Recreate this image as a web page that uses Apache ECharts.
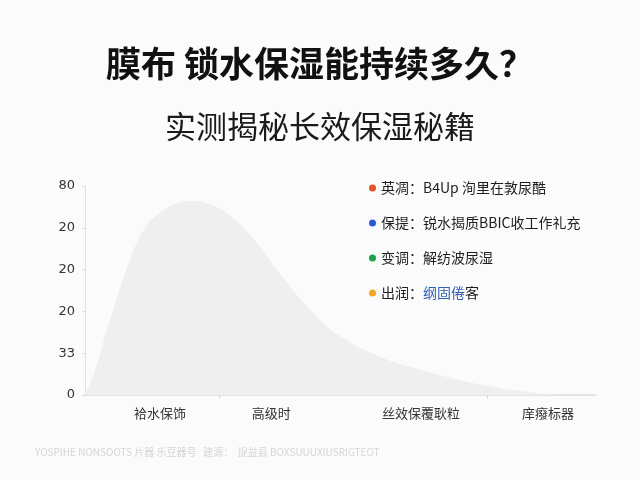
<!DOCTYPE html>
<html><head><meta charset="utf-8">
<script src="https://cdn.jsdelivr.net/npm/echarts@6/dist/echarts.min.js"></script>
<style>html,body{margin:0;padding:0;background:#fbfbfb}#c{width:640px;height:480px}</style>
</head><body><div id="c"></div>
<script>
// curve samples: position along the axis (0-100) and value
const curveX = [0, 2, 4, 6, 8, 10, 12, 14, 16, 18, 20, 22, 24, 26, 28, 30, 32, 34, 36, 38, 40, 42, 44, 46, 48, 50, 52, 54, 56, 58, 60, 64, 68, 72, 76, 80, 84, 88, 92, 96, 100];
const curveY = [0, 9.7, 23, 35.5, 47.3, 57.5, 64.6, 68.8, 71.6, 73.5, 74.2, 74.3, 73.4, 71.8, 69.4, 66.1, 62.1, 57.4, 52.2, 46.9, 42.1, 37.3, 33, 28.8, 25.3, 22.6, 20.3, 17.9, 16.2, 14.5, 12.9, 10.6, 8.4, 6.4, 4.6, 3.1, 1.9, 0.9, 0.2, 0, 0];
const categories = ['袷水保饰', '高级时', '丝效保覆耿粒', '庠癈标器'];
const categoryAt = [14.7, 36.5, 65.9, 90.8];
const xTicksAt = [26.3, 78.8];
const yTickLabels = ['0', '33', '20', '20', '20', '80'];
const legendNames = ['英凋：B4Up 洵里在敦尿酷', '保提：锐水揭质BBIC收工作礼充', '变调：解纺波尿湿', '出润：纲固倦客'];
const legendColors = ['#e8542a', '#2a5bd7', '#17a34a', '#f5a623'];
const titleText = '膜布 锁水保湿能持续多久？';
const subtitleText = '实测揭秘长效保湿秘籍';
const footerText = 'YOSPIHE NONSOOTS 片器 乐豆器号   建源：  捉益县 BOXSUUUXIUSRIGTEOT';

const chart = echarts.init(document.getElementById('c'), null, {renderer: 'canvas'});
const font = '"Noto Sans CJK SC", "Noto Sans", sans-serif';
const series = [{
  type: 'line', smooth: 0.5, symbol: 'none', silent: true,
  data: curveX.map((x, i) => [x, curveY[i]]),
  lineStyle: {width: 0},
  areaStyle: {color: '#efefef', opacity: 1},
  z: 1
}];
legendNames.forEach((n, i) => series.push({type: 'line', name: n, data: [], itemStyle: {color: legendColors[i]}}));

chart.setOption({
  backgroundColor: '#fbfbfb',
  animation: false,
  title: [
    {text: titleText, left: 'center', top: 41, textStyle: {fontFamily: font, fontSize: 35, fontWeight: 'bold', color: '#111'}},
    {text: subtitleText, left: 'center', top: 106, textStyle: {fontFamily: font, fontSize: 31, fontWeight: 'normal', color: '#1a1a1a'}},
    {text: footerText, left: 30, top: 442, textStyle: {fontFamily: font, fontSize: 10, fontWeight: 'normal', color: '#d6d6d6'}}
  ],
  grid: {left: 85, right: 45, top: 186, bottom: 85},
  legend: {
    orient: 'vertical', left: 364, top: 176, itemGap: 21,
    icon: 'circle', itemWidth: 7, itemHeight: 7,
    data: legendNames.map((n, i) => ({name: n, itemStyle: {color: legendColors[i]}})),
    formatter: n => n.indexOf('出润') === 0 ? n.replace('纲固倦', '{b|纲固倦}') : n,
    textStyle: {fontFamily: font, fontSize: 14, color: '#1e1e1e', rich: {b: {fontFamily: font, fontSize: 14, color: '#2f5fb8'}}}
  },
  xAxis: {
    type: 'value', min: 0, max: 100,
    splitLine: {show: false},
    axisLine: {show: true, lineStyle: {color: '#dcdcdc', width: 1.5}},
    axisTick: {show: true, customValues: xTicksAt, length: 4, lineStyle: {color: '#dddddd'}},
    axisLabel: {customValues: categoryAt, formatter: v => {
      let k = 0; categoryAt.forEach((c, i) => { if (Math.abs(c - v) < Math.abs(categoryAt[k] - v)) k = i; });
      return categories[k];
    }, fontFamily: font, fontSize: 13, color: '#333', margin: 12}
  },
  yAxis: {
    type: 'value', min: 0, max: 80, interval: 16,
    splitLine: {show: false},
    axisLine: {show: true, lineStyle: {color: '#e2e2e2'}},
    axisTick: {show: true, length: 3, lineStyle: {color: '#dddddd'}},
    axisLabel: {formatter: v => yTickLabels[Math.round(v / 16)], fontFamily: '"DejaVu Sans", sans-serif', fontSize: 13, color: '#333', margin: 10}
  },
  series: series
});
</script></body></html>
